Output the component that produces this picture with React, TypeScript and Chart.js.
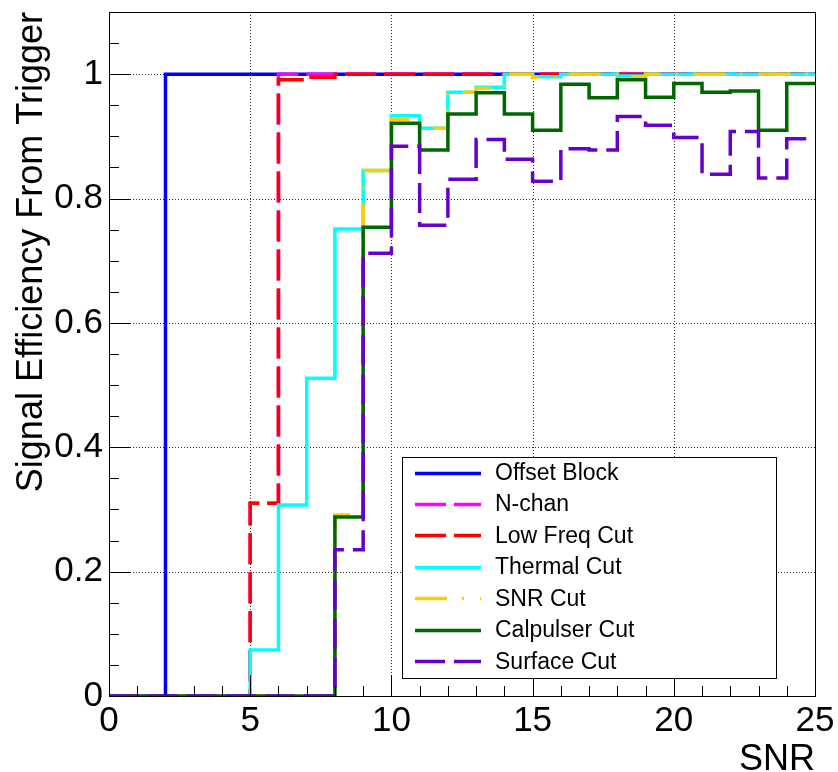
import { useEffect, useRef } from "react";
import { Chart, registerables } from "chart.js";

Chart.register(...registerables);

// Lower edges of the 25 unit-width SNR bins, plus the upper edge of the last one
const snrEdges = [0, 1, 2, 3, 4, 5, 6, 7, 8, 9, 10, 11, 12, 13, 14, 15, 16, 17, 18, 19, 20, 21, 22, 23, 24, 25];

// Signal efficiency per SNR bin after each successive cut
const offsetBlock = [0, 0, 1, 1, 1, 1, 1, 1, 1, 1, 1, 1, 1, 1, 1, 1, 1, 1, 1, 1, 1, 1, 1, 1, 1];
const nChan = [0, 0, 0, 0, 0, 0.31, 1, 1, 1, 1, 1, 1, 1, 1, 1, 1, 1, 1, 1, 1, 1, 1, 1, 1, 1];
const lowFreqCut = [0, 0, 0, 0, 0, 0.31, 0.991, 0.995, 1, 1, 1, 1, 1, 1, 1, 1, 1, 1, 1, 1, 1, 1, 1, 1, 1];
const thermalCut = [0, 0, 0, 0, 0, 0.074, 0.307, 0.511, 0.751, 0.845, 0.933, 0.913, 0.971, 0.979, 1, 0.996, 1, 1, 0.997, 1, 1, 1, 1, 1, 1];
const snrCut = [0, 0, 0, 0, 0, 0, 0, 0, 0.291, 0.845, 0.927, 0.913, 0.971, 0.977, 1, 0.995, 1, 1, 0.996, 1, 1, 1, 1, 1, 1];
const calpulserCut = [0, 0, 0, 0, 0, 0, 0, 0, 0.288, 0.754, 0.921, 0.878, 0.936, 0.97, 0.936, 0.91, 0.984, 0.962, 0.991, 0.963, 0.985, 0.971, 0.973, 0.91, 0.985];
const surfaceCut = [0, 0, 0, 0, 0, 0, 0, 0, 0.235, 0.712, 0.884, 0.757, 0.831, 0.895, 0.863, 0.828, 0.88, 0.878, 0.932, 0.918, 0.898, 0.839, 0.908, 0.833, 0.896];

const seriesNames = ["Offset Block", "N-chan", "Low Freq Cut", "Thermal Cut", "SNR Cut", "Calpulser Cut", "Surface Cut"];
const seriesValues = [offsetBlock, nChan, lowFreqCut, thermalCut, snrCut, calpulserCut, surfaceCut];

// Axis labels
const xTicks = [0, 5, 10, 15, 20, 25];
const yTicks = [0, 0.2, 0.4, 0.6, 0.8, 1];
const xTitle = "SNR";
const yTitle = "Signal Efficiency From Trigger";

// Line colour and dash pattern of each cut
const seriesStyles = [
  { color: "#0000ff", dash: [] as number[] },
  { color: "#ff00ff", dash: [31, 8] },
  { color: "#ff0000", dash: [31, 8] },
  { color: "#00ffff", dash: [] as number[] },
  { color: "#ffcc00", dash: [32, 15, 2, 16] },
  { color: "#006600", dash: [] as number[] },
  { color: "#6600cc", dash: [30, 9] },
];

const FONT = "'Liberation Sans', Arial, Helvetica, sans-serif";

// One point at each bin's lower edge; the last bin is closed at its upper edge.
function histogramPoints(values: number[]) {
  const pts = values.map((v, i) => ({ x: snrEdges[i], y: v }));
  pts.push({ x: snrEdges[values.length], y: values[values.length - 1] });
  return pts;
}

// Dotted grid behind the histograms; frame, inward ticks, legend and titles on top.
const histFrame = {
  id: "histFrame",
  beforeDatasetsDraw(chart: any) {
    const { ctx, chartArea: a, scales } = chart;
    const x = scales.x;
    const y = scales.y;
    ctx.save();
    ctx.strokeStyle = "#2a2a2a";
    ctx.lineWidth = 1;
    ctx.setLineDash([1, 2]);
    ctx.beginPath();
    for (const v of xTicks) {
      if (v <= x.min || v >= x.max) continue;
      const px = Math.round(x.getPixelForValue(v)) + 0.5;
      ctx.moveTo(px, a.top);
      ctx.lineTo(px, a.bottom);
    }
    for (const v of yTicks) {
      if (v <= y.min || v >= y.max) continue;
      const py = Math.round(y.getPixelForValue(v)) + 0.5;
      ctx.moveTo(a.left, py);
      ctx.lineTo(a.right, py);
    }
    ctx.stroke();
    ctx.restore();
  },
  afterDatasetsDraw(chart: any) {
    const { ctx, chartArea: a, scales } = chart;
    const x = scales.x;
    const y = scales.y;
    ctx.save();
    ctx.setLineDash([]);
    ctx.strokeStyle = "#000";
    ctx.lineWidth = 1;

    // inward tick marks on the left and bottom axes
    ctx.beginPath();
    for (let k = 0; k * 0.05 <= y.max + 1e-9; k++) {
      const py = Math.round(y.getPixelForValue(k * 0.05)) + 0.5;
      const len = k % 4 === 0 ? 21 : 10;
      ctx.moveTo(a.left, py);
      ctx.lineTo(a.left + len, py);
    }
    for (let k = 0; k <= x.max; k++) {
      const px = Math.round(x.getPixelForValue(k)) + 0.5;
      const len = k % 5 === 0 ? 21 : 10;
      ctx.moveTo(px, a.bottom);
      ctx.lineTo(px, a.bottom - len);
    }
    ctx.stroke();

    // frame
    ctx.strokeRect(Math.round(a.left) + 0.5, Math.round(a.top) + 0.5, Math.round(a.right - a.left), Math.round(a.bottom - a.top));

    // legend
    const box = { left: 402, top: 457, right: 776, bottom: 678 };
    ctx.fillStyle = "#fff";
    ctx.fillRect(box.left, box.top, box.right - box.left, box.bottom - box.top);
    ctx.strokeRect(box.left + 0.5, box.top + 0.5, box.right - box.left, box.bottom - box.top);
    ctx.font = `23px ${FONT}`;
    ctx.textAlign = "left";
    ctx.textBaseline = "alphabetic";
    chart.data.datasets.forEach((ds: any, i: number) => {
      const base = 480 + i * 31.43;
      const ly = Math.round(base - 7.5) + 0.5;
      ctx.save();
      ctx.strokeStyle = ds.borderColor;
      ctx.lineWidth = ds.borderWidth;
      ctx.setLineDash(ds.borderDash || []);
      ctx.beginPath();
      ctx.moveTo(415, ly);
      ctx.lineTo(481, ly);
      ctx.stroke();
      ctx.restore();
      ctx.fillStyle = "#000";
      ctx.fillText(ds.label, 495, base);
    });

    // axis titles
    ctx.fillStyle = "#000";
    ctx.font = `36px ${FONT}`;
    ctx.textAlign = "right";
    ctx.textBaseline = "alphabetic";
    ctx.fillText(xTitle, a.right, 770);
    ctx.save();
    ctx.translate(42, a.top);
    ctx.rotate(-Math.PI / 2);
    ctx.textAlign = "right";
    ctx.fillText(yTitle, 0, 0);
    ctx.restore();

    ctx.restore();
  },
};

export default function App() {
  const ref = useRef<HTMLCanvasElement>(null);

  useEffect(() => {
    const canvas = ref.current;
    if (!canvas) return;
    const n = seriesNames.length;
    const datasets = seriesNames.map((name, i) => ({
      label: name,
      data: histogramPoints(seriesValues[i]),
      // later cuts are painted over earlier ones
      order: n - 1 - i,
      borderColor: seriesStyles[i].color,
      backgroundColor: seriesStyles[i].color,
      borderDash: seriesStyles[i].dash,
      borderWidth: 3.5,
      borderCapStyle: "butt" as const,
      borderJoinStyle: "miter" as const,
      stepped: true,
      pointRadius: 0,
      pointHoverRadius: 0,
      fill: false,
      tension: 0,
    }));

    const tickFont = { family: FONT, size: 35 };

    const chart = new Chart(canvas, {
      type: "line",
      data: { datasets },
      options: {
        animation: false,
        responsive: false,
        devicePixelRatio: 1,
        events: [],
        layout: { padding: { top: 12, right: 23, bottom: 0, left: 0 } },
        plugins: {
          legend: { display: false },
          tooltip: { enabled: false },
          title: { display: false },
        },
        scales: {
          x: {
            type: "linear",
            min: 0,
            max: 25,
            grid: { display: false, drawTicks: false },
            border: { display: false },
            ticks: { font: tickFont, color: "#000", padding: 4, maxRotation: 0, autoSkip: false },
            afterBuildTicks: (s: any) => {
              s.ticks = xTicks.map((v) => ({ value: v }));
            },
            afterFit: (s: any) => {
              s.height = 76;
              s.paddingLeft = 0;
              s.paddingRight = 0;
            },
          },
          y: {
            type: "linear",
            min: 0,
            max: 1.1,
            grid: { display: false, drawTicks: false },
            border: { display: false },
            ticks: {
              font: tickFont,
              color: "#000",
              padding: 6,
              autoSkip: false,
              callback: (v: any) => `${+Number(v).toFixed(1)}`,
            },
            afterBuildTicks: (s: any) => {
              s.ticks = yTicks.map((v) => ({ value: v }));
            },
            afterFit: (s: any) => {
              s.width = 109;
              s.paddingTop = 0;
              s.paddingBottom = 0;
            },
          },
        },
      },
      plugins: [histFrame],
    });

    return () => chart.destroy();
  }, []);

  return (
    <div style={{ position: "fixed", left: 0, top: 0, width: 838, height: 772, background: "#fff" }}>
      <canvas ref={ref} width={838} height={772} style={{ display: "block", width: 838, height: 772 }} />
    </div>
  );
}
